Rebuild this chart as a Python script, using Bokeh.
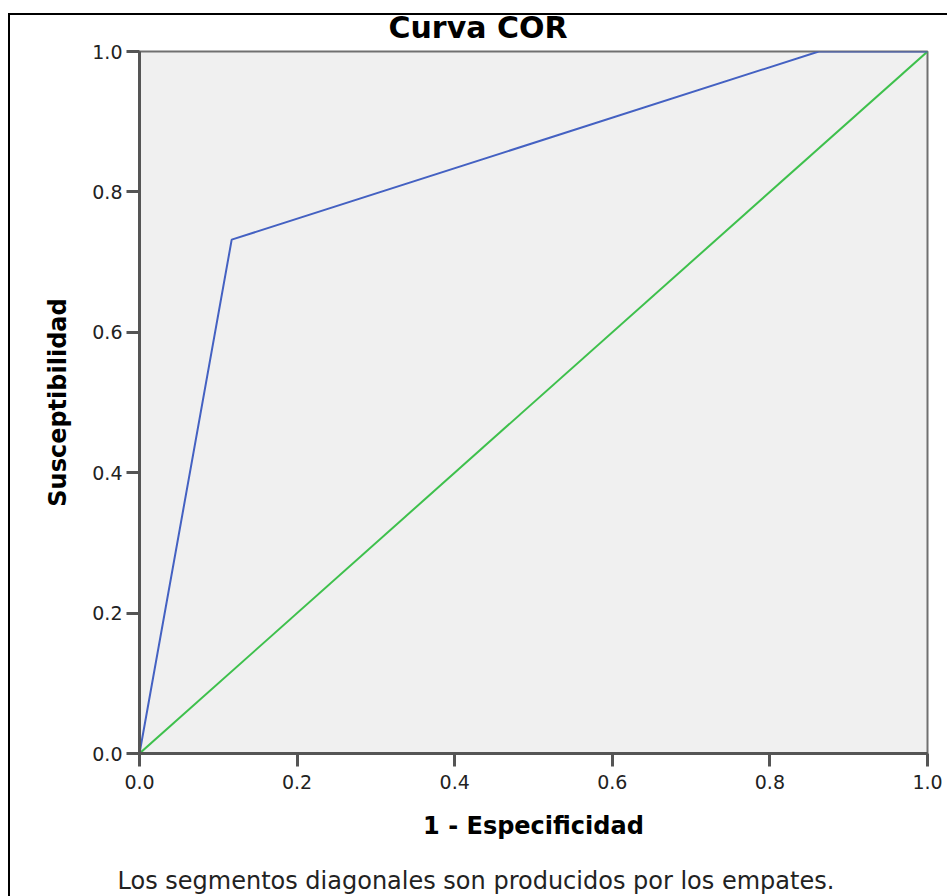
from bokeh.plotting import figure
from bokeh.models import Range1d, FixedTicker, Title, CustomJSTickFormatter
from bokeh.embed import file_html
from bokeh.resources import INLINE

# ROC curve data
fpr = [0.0, 0.117, 0.862, 1.0]
tpr = [0.0, 0.732, 1.0, 1.0]
ref_x = [0.0, 1.0]
ref_y = [0.0, 1.0]
ticks = [0.0, 0.2, 0.4, 0.6, 0.8, 1.0]
title_text = "Curva COR"
x_label = "1 - Especificidad"
y_label = "Susceptibilidad"
note_text = "Los segmentos diagonales son producidos por los empates."

FONT = "DejaVu Sans"

p = figure(width=947, height=896, output_backend="svg", toolbar_location=None,
           x_range=Range1d(0, 1), y_range=Range1d(0, 1),
           min_border_left=139, min_border_right=20, min_border_top=51, min_border_bottom=143)
# black page frame (left and top edges) drawn behind a transparent canvas
p.styles = {
    "background": "linear-gradient(#000, #000) 8px 13px / 2px 100% no-repeat, "
                  "linear-gradient(#000, #000) 8px 13px / 100% 2px no-repeat, #ffffff",
}
p.border_fill_color = None
p.background_fill_color = "#f0f0f0"
p.outline_line_color = "#707070"
p.outline_line_width = 2
p.xgrid.grid_line_color = None
p.ygrid.grid_line_color = None

for ax in (p.xaxis[0], p.yaxis[0]):
    ax.ticker = FixedTicker(ticks=ticks)
    ax.formatter = CustomJSTickFormatter(code="return tick.toFixed(1);")
    ax.minor_tick_line_color = None
    ax.major_tick_in = 0
    ax.major_tick_out = 13
    ax.major_tick_line_width = 3
    ax.major_tick_line_color = "#555555"
    ax.axis_line_width = 3
    ax.axis_line_color = "#555555"
    ax.major_label_text_font = FONT
    ax.major_label_text_font_size = "19px"
    ax.major_label_text_color = "#222222"
    ax.axis_label_text_font = FONT
    ax.axis_label_text_font_style = "bold"
    ax.axis_label_text_font_size = "24px"
    ax.axis_label_text_color = "black"

p.xaxis[0].major_label_standoff = 8
p.yaxis[0].major_label_standoff = 4
p.xaxis[0].axis_label = x_label
p.yaxis[0].axis_label = y_label
p.xaxis[0].axis_label_standoff = 20
p.yaxis[0].axis_label_standoff = 17

p.title = Title(text=title_text, align="left", offset=249, standoff=14,
                text_font=FONT, text_font_style="bold", text_font_size="30px", text_color="black")
# empty spacer between the axis label and the footnote
p.add_layout(Title(text=" ", standoff=7, text_font=FONT, text_font_size="10px"), "below")
p.add_layout(Title(text=note_text, align="left", offset=-22, standoff=4,
                   text_font=FONT, text_font_style="normal", text_font_size="24px",
                   text_color="#222222"), "below")

p.line(ref_x, ref_y, line_color="#3ec04c", line_width=2)
p.line(fpr, tpr, line_color="#4461c2", line_width=2)

open("out.html", "w").write(file_html(p, INLINE))
